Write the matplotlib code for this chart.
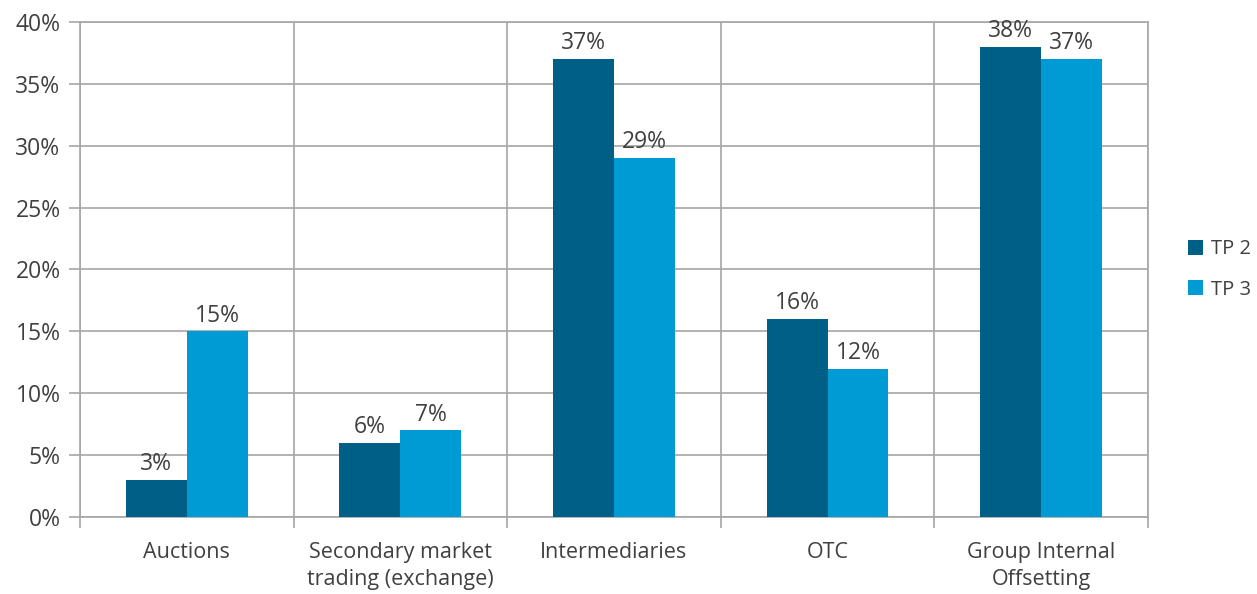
import numpy as np
import matplotlib.pyplot as plt
from matplotlib.ticker import FuncFormatter

categories = ['Auctions', 'Secondary market\ntrading (exchange)', 'Intermediaries', 'OTC', 'Group Internal\nOffsetting']
tp2 = [3, 6, 37, 16, 38]
tp3 = [15, 7, 29, 12, 37]
series_names = ['TP 2', 'TP 3']

dark = '#005f87'
light = '#009bd5'
grid_col = '#a6a6a6'
text_col = '#404040'

plt.rcParams['font.family'] = ['Open Sans', 'DejaVu Sans']

fig = plt.figure(figsize=(12.57, 5.94), dpi=100)
ax = fig.add_axes([0.0636, 0.1296, 0.8497, 0.8334])

x = np.arange(len(categories))
w = 0.285
b2 = ax.bar(x - w / 2, tp2, w, color=dark, label=series_names[0], zorder=3)
b3 = ax.bar(x + w / 2, tp3, w, color=light, label=series_names[1], zorder=3)

for bars in (b2, b3):
    for r in bars:
        ax.text(r.get_x() + r.get_width() / 2, r.get_height() + 0.3, f'{r.get_height():.0f}%',
                ha='center', va='bottom', fontsize=16.5, color=text_col)

ax.set_xlim(-0.5, len(categories) - 0.5)
ax.set_ylim(0, 40)
ax.set_yticks(np.arange(0, 41, 5))
ax.yaxis.set_major_formatter(FuncFormatter(lambda v, p: f'{v:.0f}%'))
ax.set_xticks(x)
ax.set_xticklabels(categories, fontsize=15.5, color=text_col, linespacing=1.4)
ax.set_xticks(np.arange(-0.5, len(categories)), minor=True)
ax.tick_params(axis='x', which='major', length=0, pad=18)
ax.tick_params(axis='x', which='minor', length=8, color=grid_col, width=1.2)
ax.tick_params(axis='y', length=8, color=grid_col, width=1.2, labelsize=16.5, labelcolor=text_col, pad=6)

ax.yaxis.grid(True, color=grid_col, linewidth=1.2, zorder=0)
ax.xaxis.grid(True, which='minor', color=grid_col, linewidth=1.2, zorder=0)
for s in ax.spines.values():
    s.set_color(grid_col)
    s.set_linewidth(1.2)

ax.legend(loc='center left', bbox_to_anchor=(1.02, 0.5), frameon=False, fontsize=14.5,
          handlelength=0.75, handleheight=0.75, handletextpad=0.4, labelspacing=1.0,
          labelcolor=text_col)

fig.savefig('out.png', dpi=100)
